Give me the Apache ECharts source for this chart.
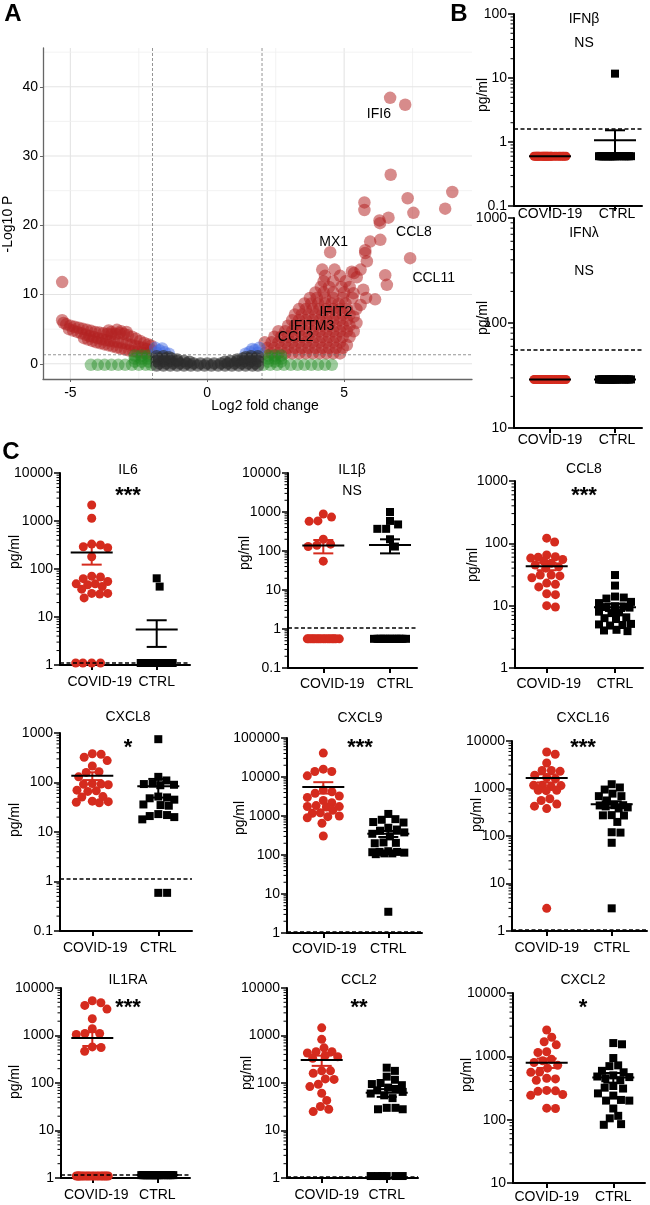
<!DOCTYPE html>
<html><head><meta charset="utf-8">
<script src="https://cdn.jsdelivr.net/npm/echarts@6/dist/echarts.min.js"></script>
<style>html,body{margin:0;padding:0;background:#fff}#c{width:650px;height:1205px}</style>
</head><body><div id="c"></div>
<script>
// ---------------- DATA ----------------
// Panel A: volcano plot, [log2 fold change, -log10 P]
const volcanoNS = [
 [-1.85,-0.25],[-1.6,-0.25],[-1.35,-0.25],[-1.1,-0.25],[-0.85,-0.25],[-0.6,-0.25],[-0.35,-0.25],[-0.1,-0.25],[0.15,-0.25],[0.4,-0.25],[0.65,-0.25],[0.9,-0.25],[1.15,-0.25],[1.4,-0.25],[1.65,-0.25],[1.85,-0.25],
 [-1.75,0.05],[-1.5,0.05],[-1.25,0.05],[-1.0,0.05],[-0.75,0.05],[-0.5,0.05],[-0.25,0.05],[0,0.05],[0.25,0.05],[0.5,0.05],[0.75,0.05],[1.0,0.05],[1.25,0.05],[1.5,0.05],[1.75,0.05],
 [-1.85,0.4],[-1.6,0.4],[-1.35,0.4],[-1.1,0.4],[-0.85,0.4],[-0.65,0.3],[0.65,0.3],[0.85,0.4],[1.1,0.4],[1.35,0.4],[1.6,0.4],[1.85,0.4],
 [-1.8,0.75],[-1.55,0.75],[-1.3,0.75],[-1.1,0.6],[1.1,0.6],[1.3,0.75],[1.55,0.75],[1.8,0.75],
 [-1.85,1.1],[-1.6,1.1],[-1.4,0.95],[1.4,0.95],[1.6,1.1],[1.85,1.1]
];
const volcanoP = [
 [-1.9,2.3],[-1.75,1.95],[-1.55,1.65],[-1.4,1.45],[-1.85,1.6],[-1.65,2.2],
 [1.4,1.45],[1.55,1.7],[1.75,2.0],[1.9,2.3],[1.85,1.6],[1.65,2.15]
];
const volcanoFC = [
 [-4.25,-0.15],[-4.0,-0.15],[-3.75,-0.15],[-3.5,-0.15],[-3.25,-0.15],[-3.0,-0.15],[-2.75,-0.15],[-2.5,-0.15],[-2.25,-0.15],[-2.05,-0.15],
 [2.05,-0.15],[2.3,-0.15],[2.55,-0.15],[2.8,-0.15],[3.05,-0.15],[3.3,-0.15],[3.55,-0.15],[3.8,-0.15],[4.05,-0.15],[4.3,-0.15],[4.55,-0.15],
 [-2.65,0.3],[-2.4,0.3],[-2.15,0.3],[-2.65,0.75],[-2.4,0.75],[-2.15,0.75],[-2.65,1.2],[-2.4,1.2],[-2.15,1.2],
 [2.22,0.3],[2.47,0.3],[2.7,0.3],[2.22,0.75],[2.47,0.75],[2.7,0.75],[2.22,1.2],[2.47,1.2],[2.7,1.2]
];
const volcanoFCP = [
 // down-regulated
 [-5.3,11.8],[-5.3,6.3],[-5.25,5.9],
 [-5.15,5.7],[-5.0,5.5],[-4.85,5.35],[-4.7,5.2],[-4.55,5.05],[-4.4,4.9],[-4.25,4.75],[-4.1,4.6],[-3.95,4.5],[-3.8,4.4],[-3.65,4.3],[-3.5,4.25],[-3.35,4.3],[-3.2,4.4],[-3.05,4.3],[-2.9,4.1],[-2.75,3.9],[-2.6,3.6],[-2.45,3.3],[-2.3,3.0],[-2.15,2.8],[-2.05,2.6],
 [-5.05,5.0],[-4.9,4.8],[-4.75,4.6],[-4.6,4.4],[-4.45,4.2],[-4.3,4.0],[-4.15,3.85],[-4.0,3.7],[-3.85,3.55],[-3.7,3.4],[-3.55,3.3],[-3.4,3.2],[-3.25,3.1],[-3.1,3.0],[-2.95,2.9],[-2.8,2.75],[-2.65,2.6],[-2.5,2.45],[-2.35,2.3],[-2.2,2.15],[-2.05,2.0],
 [-4.5,3.7],[-4.35,3.5],[-4.2,3.3],[-4.05,3.1],[-3.9,2.95],[-3.75,2.8],[-3.6,2.65],[-3.45,2.5],[-3.3,2.35],[-3.15,2.2],[-3.0,2.05],[-2.85,1.9],[-2.7,1.8],[-2.55,1.7],[-2.4,1.6],[-2.25,1.5],[-2.1,1.45],
 [-3.6,4.8],[-3.5,4.6],[-3.3,4.9],[-3.15,4.7],[-2.95,4.6],
 // up-regulated
 [2.1,1.5],[2.35,1.5],[2.6,1.5],[2.85,1.5],[3.1,1.5],[3.35,1.5],[3.6,1.5],[3.85,1.5],[4.1,1.5],[4.35,1.5],[4.6,1.5],[4.85,1.5],
 [2.2,2.3],[2.45,2.3],[2.7,2.3],[2.95,2.3],[3.2,2.3],[3.45,2.3],[3.7,2.3],[3.95,2.3],[4.2,2.3],[4.45,2.3],[4.7,2.3],[4.95,2.3],
 [2.1,3.1],[2.35,3.1],[2.6,3.1],[2.85,3.1],[3.1,3.1],[3.35,3.1],[3.6,3.1],[3.85,3.1],[4.1,3.1],[4.35,3.1],[4.6,3.1],[4.85,3.1],[5.1,2.7],
 [2.45,3.9],[2.7,3.9],[2.95,3.9],[3.2,3.9],[3.45,3.9],[3.7,3.9],[3.95,3.9],[4.2,3.9],[4.45,3.9],[4.7,3.9],[4.95,3.9],[5.2,3.9],
 [2.6,4.7],[2.85,4.7],[3.1,4.7],[3.35,4.7],[3.6,4.7],[3.85,4.7],[4.1,4.7],[4.35,4.7],[4.6,4.7],[4.85,4.7],[5.1,4.7],[5.35,4.7],
 [2.95,5.5],[3.2,5.5],[3.45,5.5],[3.7,5.5],[3.95,5.5],[4.2,5.5],[4.45,5.5],[4.7,5.5],[4.95,5.5],[5.2,5.5],[5.45,5.9],
 [3.1,6.3],[3.35,6.3],[3.6,6.3],[3.85,6.3],[4.1,6.3],[4.35,6.3],[4.6,6.3],[4.85,6.3],[5.1,6.3],[5.35,6.8],
 [3.2,7.1],[3.45,7.1],[3.7,7.1],[3.95,7.1],[4.2,7.1],[4.45,7.1],[4.7,7.1],[4.95,7.1],[5.2,7.1],
 [3.35,7.9],[3.6,7.9],[3.85,7.9],[4.1,7.9],[4.35,7.9],[4.6,7.9],[4.85,7.9],[5.1,7.9],[5.45,7.9],
 [3.55,8.7],[3.8,8.7],[4.05,8.7],[4.3,8.7],[4.55,8.7],[4.8,8.7],[5.05,8.7],[5.6,8.5],
 [3.75,9.5],[4.0,9.5],[4.3,9.5],[4.6,9.5],[4.95,9.5],[5.3,9.5],[5.8,9.5],
 [3.95,10.3],[4.25,10.3],[4.6,10.3],[5.0,10.3],[5.34,10.2],[5.7,10.7],[6.13,9.3],
 [4.15,11.1],[4.45,11.1],[4.9,11.1],[5.2,11.1],[6.56,11.4],
 [4.25,11.9],[4.6,11.9],[5.05,11.9],[5.46,12.5],[6.5,12.8],
 [4.3,12.7],[4.85,12.7],[4.2,13.6],[4.65,13.6],[5.28,13.3],[5.36,13.1],[5.6,13.6],
 [5.83,14.8],[5.77,16.0],[5.77,16.4],[4.49,16.1],[5.95,17.65],[6.32,17.9],
 [6.29,20.7],[6.31,20.3],[6.62,21.1],[5.74,22.2],[5.74,23.3],[7.53,21.8],[7.32,23.9],
 [8.95,24.8],[8.69,22.4],[6.7,27.3],[6.68,38.4],[7.23,37.4],[7.41,15.25]
];
const geneLabels = ['IFI6','CCL8','MX1','CCL11','IFIT2','IFITM3','CCL2'];
const geneLabelPos = [[6.27,36.0],[7.55,18.95],[4.62,17.6],[8.27,12.4],[4.7,7.4],[3.83,5.4],[3.23,3.8]];
const volcanoXTicks = [-5,0,5];
const volcanoYTicks = [0,10,20,30,40];

// Panels B and C: concentrations (pg/ml)
const groups = ['COVID-19','CTRL'];
const analytes = ['IFNβ','IFNλ','IL6','IL1β','CCL8','CXCL8','CXCL9','CXCL16','IL1RA','CCL2','CXCL2'];
const significance = ['NS','NS','***','NS','***','*','***','***','***','**','*'];
const detectionLimit = [1.6, 56, 1.12, 1.1, null, 1.15, 1.05, 1.07, 1.15, 1.08, null];

const ifnbCovid = [0.6,0.6,0.6,0.6,0.6,0.6,0.6,0.6,0.6,0.6,0.6,0.6,0.6,0.6,0.6,0.6,0.6,0.6,0.6,0.6,0.6,0.6,0.6,0.6];
const ifnbCtrl  = [11.7,0.6,0.6,0.6,0.6,0.6,0.6,0.6,0.6,0.6,0.6,0.6,0.6,0.6,0.6,0.6,0.6,0.6,0.6,0.6,0.6,0.6,0.6,0.6];
const ifnlCovid = [29,29,29,29,29,29,29,29,29,29,29,29,29,29,29,29,29,29,29,29,29,29,29,29];
const ifnlCtrl  = [29,29,29,29,29,29,29,29,29,29,29,29,29,29,29,29,29,29,29,29,29,29,29,29];
const il6Covid  = [2150,1140,330,316,290,277,180,71,68,63,55,49,49,47,43,38,31,31,30,25,1.1,1.1,1.1,1.1];
const il6Ctrl   = [64,43,1.1,1.1,1.1,1.1,1.1,1.1,1.1,1.1,1.1,1.1,1.1,1.1,1.1,1.1,1.1,1.1,1.1,1.1,1.1,1.1,1.1,1.1];
const il1bCovid = [890,740,590,575,200,150,140,130,55,0.56,0.56,0.56,0.56,0.56,0.56,0.56,0.56,0.56,0.56,0.56,0.56,0.56,0.56,0.56,0.56];
const il1bCtrl  = [1000,590,480,370,370,200,130,0.56,0.56,0.56,0.56,0.56,0.56,0.56,0.56,0.56,0.56,0.56,0.56,0.56,0.56,0.56];
const ccl8Covid = [121,105,65,61,60,58,55,52,48,45,42,40,31,31,30,28,23,22,20,15.5,15,10,9.5];
const ccl8Ctrl  = [31,21,14,13.5,13,11.5,11,9.8,9.7,9.5,9.3,8,7.8,7.6,6.5,6.3,6.1,5.1,5,4.9,4.8,4.1,4,3.9];
const cxcl8Covid = [380,372,324,277,215,165,160,130,95,93,92,90,70,68,66,52,51,42,41,40,39];
const cxcl8Ctrl  = [750,130,110,95,93,90,88,52,50,48,45,36,35,34,23,22,21,20,18,0.59,0.59];
const cxcl9Covid = [41000,15900,13800,13800,10700,4650,4200,3830,3260,3000,2500,2200,1850,1750,1740,1700,1400,1210,1180,1000,960,900,650,306];
const cxcl9Ctrl  = [1130,830,800,700,680,500,450,420,380,350,300,210,205,200,125,120,120,118,115,110,110,105,3.5];
const cxcl16Covid = [5860,5250,3450,2400,2400,2300,1900,1700,1600,1170,1170,1150,1100,920,920,900,610,560,470,425,378,3.0];
const cxcl16Ctrl  = [1230,1050,950,780,690,690,560,445,445,440,420,400,380,275,272,270,198,120,118,72,3.0];
const il1raCovid = [5380,4900,4300,3600,2250,1390,1100,1100,1050,575,560,465,1.1,1.1,1.1,1.1,1.1,1.1,1.1,1.1,1.1,1.1,1.1,1.1,1.1,1.1,1.1,1.1,1.1,1.1];
const il1raCtrl  = [1.15,1.15,1.15,1.15,1.15,1.15,1.15,1.15,1.15,1.15,1.15,1.15,1.15,1.15,1.15,1.15,1.15,1.15,1.15,1.15,1.15,1.15,1.15,1.15];
const ccl2Covid = [1450,830,550,457,457,427,380,357,330,180,180,160,122,119,94,84,61,43,32,28,25];
const ccl2Ctrl  = [210,180,136,117,100,95,90,80,75,70,65,60,55,48,30,30,28,28,1.1,1.1,1.1,1.1,1.1,1.1];
const cxcl2Covid = [2600,2000,1700,1520,1180,1150,900,850,800,720,650,565,560,450,440,420,290,285,280,250,242,152,150];
const cxcl2Ctrl  = [1620,1550,940,720,700,590,560,500,480,470,450,420,340,320,310,260,240,205,200,200,150,115,105,85,83];

const covidSets = [ifnbCovid,ifnlCovid,il6Covid,il1bCovid,ccl8Covid,cxcl8Covid,cxcl9Covid,cxcl16Covid,il1raCovid,ccl2Covid,cxcl2Covid];
const ctrlSets  = [ifnbCtrl,ifnlCtrl,il6Ctrl,il1bCtrl,ccl8Ctrl,cxcl8Ctrl,cxcl9Ctrl,cxcl16Ctrl,il1raCtrl,ccl2Ctrl,cxcl2Ctrl];
const axisRanges = [[0.1,100],[10,1000],[1,10000],[0.1,10000],[1,1000],[0.1,1000],[1,100000],[1,10000],[1,10000],[1,10000],[10,10000]];

// ---------------- LAYOUT (pixels) ----------------
// lm: label margin, s1/s2: horizontal shift of the group labels
const layout = [
 {gx0:514,gx1:642,gy0:14, gy1:206, c1:550,  c2:615,  tx:584,ty:19, sy:43, px:483,py:95,  lm:1, s1:0,s2:2},
 {gx0:514,gx1:642,gy0:218,gy1:428, c1:550,  c2:615,  tx:584,ty:233,sy:271,px:483,py:318, lm:5, s1:0,s2:2},
 {gx0:60, gx1:190,gy0:473,gy1:665, c1:91.7, c2:156.7,tx:128,ty:470,sy:491,px:15, py:552, lm:10,s1:8,s2:0},
 {gx0:288,gx1:417,gy0:473,gy1:668, c1:323.3,c2:390,  tx:352,ty:470,sy:491,px:245,py:553, lm:9, s1:9,s2:5},
 {gx0:515,gx1:643,gy0:481,gy1:668, c1:546.7,c2:615,  tx:584,ty:469,sy:491,px:473,py:565, lm:9, s1:2,s2:0},
 {gx0:60, gx1:192,gy0:733,gy1:931, c1:92.3, c2:158.3,tx:128,ty:717,sy:743,px:15, py:820, lm:10,s1:3,s2:0},
 {gx0:287,gx1:422,gy0:738,gy1:933, c1:323.3,c2:388.3,tx:360,ty:718,sy:743,px:240,py:818, lm:9, s1:1,s2:0},
 {gx0:512,gx1:647,gy0:741,gy1:931, c1:546.7,c2:611.7,tx:583,ty:718,sy:743,px:477,py:815, lm:10,s1:0,s2:0},
 {gx0:61, gx1:190,gy0:988,gy1:1178,c1:92.3, c2:157.3,tx:128,ty:980,sy:1003,px:15, py:1082,lm:10,s1:4,s2:0},
 {gx0:287,gx1:418,gy0:988,gy1:1178,c1:321.7,c2:386.7,tx:359,ty:980,sy:1003,px:247,py:1073,lm:10,s1:5,s2:0},
 {gx0:513,gx1:645,gy0:993,gy1:1183,c1:546.7,c2:613.3,tx:583,ty:980,sy:1003,px:467,py:1075,lm:7, s1:0,s2:0}
];

const FONT = '"Liberation Sans", Arial, Helvetica, sans-serif';
const RED = '#d52b1e';

// beeswarm placement (pixel offsets) so that dots do not overlap, limited width
function swarm(vals, py, size, maxHalf) {
  const order = vals.map((v,i)=>i).sort((a,b)=>vals[b]-vals[a]);
  const placed = []; const out = new Array(vals.length);
  for (const i of order) {
    const y = py(vals[i]);
    const near = placed.filter(p => Math.abs(p.y - y) < size);
    const cands = [0];
    near.forEach(p => { const dx = Math.sqrt(size*size - (p.y-y)*(p.y-y)); cands.push(p.x+dx, p.x-dx); });
    cands.sort((a,b)=>Math.abs(a)-Math.abs(b));
    let best = null;
    for (const c of cands) {
      if (Math.abs(c) > maxHalf + 0.01) continue;
      if (near.every(p => (p.x-c)*(p.x-c)+(p.y-y)*(p.y-y) >= size*size - 0.05)) { best = c; break; }
    }
    if (best === null) {
      let bestD = -1;
      for (let c = -maxHalf; c <= maxHalf + 0.001; c += 0.5) {
        let d = Infinity; near.forEach(p => { d = Math.min(d, Math.hypot(p.x-c, p.y-y)); });
        if (d > bestD + 1e-6) { bestD = d; best = c; }
      }
    }
    placed.push({x:best, y}); out[i] = best;
  }
  return out;
}
function stats(vals) {
  const n = vals.length; const m = vals.reduce((a,b)=>a+b,0)/n;
  const sd = n>1 ? Math.sqrt(vals.reduce((a,b)=>a+(b-m)*(b-m),0)/(n-1)) : 0;
  return [m, sd/Math.sqrt(n)];
}
const fmtNum = v => String(parseFloat(Number(v).toPrecision(6)));

const grids=[], xAxes=[], yAxes=[], series=[], graphics=[];

// ---------------- Panel A ----------------
grids.push({left:43, top:48, width:429, height:331, outerBoundsMode:'none'});
xAxes.push({type:'value', gridIndex:0, min:-6, max:9.67,
  axisLine:{show:true,onZero:false,lineStyle:{color:'#666',width:1.3}},
  axisTick:{show:true,customValues:volcanoXTicks,length:3,lineStyle:{color:'#666'}},
  axisLabel:{customValues:volcanoXTicks,fontSize:14,color:'#000',fontFamily:FONT,margin:7},
  splitLine:{show:false}});
yAxes.push({type:'value', gridIndex:0, min:-2.2, max:45.6,
  axisLine:{show:true,onZero:false,lineStyle:{color:'#666',width:1.3}},
  axisTick:{show:true,customValues:volcanoYTicks,length:3,lineStyle:{color:'#666'}},
  axisLabel:{customValues:volcanoYTicks,fontSize:14,color:'#000',fontFamily:FONT,margin:5},
  splitLine:{show:false}});
const gridLinesA = [[-5,0,0,1],[0,0,0,1],[5,0,0,1],[-2.5,0,0,0],[2.5,0,0,0],[7.5,0,0,0],
  [0,0,1,1],[0,10,1,1],[0,20,1,1],[0,30,1,1],[0,40,1,1],[0,5,1,0],[0,15,1,0],[0,25,1,0],[0,35,1,0],[0,45,1,0]];
series.push({type:'custom', xAxisIndex:0, yAxisIndex:0, z:0, silent:true, data:gridLinesA,
  renderItem:(params, api) => {
    const cs = params.coordSys; const p = api.coord([api.value(0), api.value(1)]);
    const major = api.value(3) === 1;
    const st = {stroke: major ? '#e4e4e4' : '#efefef', lineWidth: major ? 1.1 : 0.8};
    if (api.value(2) === 0) return {type:'line', shape:{x1:p[0],y1:cs.y,x2:p[0],y2:cs.y+cs.height}, style:st};
    return {type:'line', shape:{x1:cs.x,y1:p[1],x2:cs.x+cs.width,y2:p[1]}, style:st};
  }});
const volcanoStyle = (c) => ({type:'scatter', xAxisIndex:0, yAxisIndex:0, symbolSize:12.5, silent:true, itemStyle:{color:c}, z:2});
series.push(Object.assign(volcanoStyle('rgba(178,34,34,0.66)'), {data:volcanoFCP}));
series.push(Object.assign(volcanoStyle('rgba(34,139,34,0.55)'), {data:volcanoFC}));
series.push(Object.assign(volcanoStyle('rgba(65,105,225,0.6)'), {data:volcanoP}));
series.push(Object.assign(volcanoStyle('rgba(45,45,45,0.75)'), {data:volcanoNS}));
const thresholdsA = [[-2,0,0],[2,0,0],[0,1.3,1]];
series.push({type:'custom', xAxisIndex:0, yAxisIndex:0, z:3, silent:true, data:thresholdsA,
  renderItem:(params, api) => {
    const cs = params.coordSys; const p = api.coord([api.value(0), api.value(1)]);
    const st = {stroke:'#666', lineWidth:0.7, lineDash:[3,2]};
    if (api.value(2) === 0) return {type:'line', shape:{x1:p[0],y1:cs.y,x2:p[0],y2:cs.y+cs.height}, style:st};
    return {type:'line', shape:{x1:cs.x,y1:p[1],x2:cs.x+cs.width,y2:p[1]}, style:st};
  }});
series.push({type:'custom', xAxisIndex:0, yAxisIndex:0, z:5, silent:true, data:geneLabelPos,
  renderItem:(params, api) => {
    const p = api.coord([api.value(0), api.value(1)]);
    return {type:'text', x:p[0], y:p[1], style:{text:geneLabels[params.dataIndex], fill:'#000', fontSize:14, fontFamily:FONT,
      align:'center', verticalAlign:'middle', textAlign:'center', textVerticalAlign:'middle'}};
  }});

// ---------------- Panels B and C ----------------
layout.forEach((P, i) => {
  const gi = grids.length;
  const [ymin, ymax] = axisRanges[i];
  grids.push({left:P.gx0, top:P.gy0, width:P.gx1-P.gx0, height:P.gy1-P.gy0, outerBoundsMode:'none'});
  const u = (P.c2-P.c1)/2;
  const xmin = 1 - (P.c1-P.gx0)/u, xmax = 3 + (P.gx1-P.c2)/u;
  xAxes.push({type:'value', gridIndex:gi, min:xmin, max:xmax,
    axisLine:{show:true,onZero:false,lineStyle:{color:'#000',width:2}},
    axisTick:{show:true,customValues:[1,3],length:5,lineStyle:{color:'#000',width:2}},
    axisLabel:{show:true,customValues:[1,3],
      formatter:v => Math.abs(v-1)<1e-6 ? '{a|' + groups[0] + '}' : '{b|' + groups[1] + '}',
      rich:{a:{padding:[0,0,0,2*P.s1],fontSize:14,color:'#000',fontFamily:FONT},
            b:{padding:[0,0,0,2*P.s2],fontSize:14,color:'#000',fontFamily:FONT}},
      fontSize:14,color:'#000',fontFamily:FONT,margin:P.lm},
    splitLine:{show:false}});
  yAxes.push({type:'log', logBase:10, gridIndex:gi, min:ymin, max:ymax,
    axisLine:{show:true,onZero:false,lineStyle:{color:'#000',width:2}},
    axisTick:{show:true,length:6,lineStyle:{color:'#000',width:1.5}},
    axisLabel:{fontSize:14,color:'#000',fontFamily:FONT,margin:7,formatter:fmtNum},
    splitLine:{show:false}, minorTick:{show:false}});
  // minor log ticks
  const minor = [];
  for (let d = Math.round(Math.log10(ymin)); d < Math.round(Math.log10(ymax)); d++)
    for (let k = 2; k <= 9; k++) minor.push([xmin, k*Math.pow(10,d)]);
  series.push({type:'custom', xAxisIndex:gi, yAxisIndex:gi, silent:true, z:1, data:minor,
    renderItem:(params, api) => {
      const p = api.coord([api.value(0), api.value(1)]);
      return {type:'line', shape:{x1:p[0]-3.5,y1:p[1],x2:p[0],y2:p[1]}, style:{stroke:'#000',lineWidth:1}};
    }});
  const lg0 = Math.log10(ymin), lg1 = Math.log10(ymax);
  const py = v => P.gy1 - (Math.log10(v)-lg0)/(lg1-lg0)*(P.gy1-P.gy0);
  [covidSets[i], ctrlSets[i]].forEach((vals, g) => {
    const cat = g === 0 ? 1 : 3;
    const offs = swarm(vals, py, 8.8, 16);
    const s = {type:'scatter', xAxisIndex:gi, yAxisIndex:gi, silent:true, z:2,
      data: vals.map((v,k) => [cat + offs[k]/u, v]),
      symbol: g === 0 ? 'circle' : 'rect', symbolSize: g === 0 ? 9 : 8,
      itemStyle:{color: g === 0 ? RED : '#000', opacity:1}};
    if (g === 0 && detectionLimit[i] != null) {
      s.markLine = {silent:true, symbol:['none','none'], label:{show:false}, animation:false,
        lineStyle:{color:'#000', type:[4,2.5], width:1.6}, data:[{yAxis:detectionLimit[i]}]};
    }
    series.push(s);
    const [m, sem] = stats(vals);
    const lo = Math.max(m - sem, ymin*1.001), hi = m + sem;
    series.push({type:'custom', xAxisIndex:gi, yAxisIndex:gi, silent:true, z:4, data:[[cat, m, lo, hi]],
      renderItem:(params, api) => {
        const pm = api.coord([api.value(0), api.value(1)]);
        const pl = api.coord([api.value(0), api.value(2)]);
        const ph = api.coord([api.value(0), api.value(3)]);
        const ec = g === 0 ? RED : '#000';
        const st = {stroke:ec, lineWidth:2};
        return {type:'group', children:[
          {type:'line', shape:{x1:pm[0],y1:pl[1],x2:pm[0],y2:ph[1]}, style:st},
          {type:'line', shape:{x1:pm[0]-10,y1:pl[1],x2:pm[0]+10,y2:pl[1]}, style:st},
          {type:'line', shape:{x1:pm[0]-10,y1:ph[1],x2:pm[0]+10,y2:ph[1]}, style:st},
          {type:'line', shape:{x1:pm[0]-21,y1:pm[1],x2:pm[0]+21,y2:pm[1]}, style:{stroke:'#000',lineWidth:2}}
        ]};
      }});
  });
  graphics.push({type:'text', x:P.tx, y:P.ty, style:{text:analytes[i], fill:'#000', fontSize:14, fontFamily:FONT,
    align:'center', verticalAlign:'middle', textAlign:'center', textVerticalAlign:'middle'}});
  const sig = significance[i];
  const isStar = sig.indexOf('*') >= 0;
  graphics.push({type:'text', x:P.tx, y:P.sy + (isStar ? 5 : 0), style:{text:sig, fill:'#000',
    fontSize: isStar ? 22 : 14, fontWeight: isStar ? 'bold' : 'normal', fontFamily:FONT,
    align:'center', verticalAlign:'middle', textAlign:'center', textVerticalAlign:'middle'}});
  graphics.push({type:'text', x:P.px, y:P.py, rotation:Math.PI/2, style:{text:'pg/ml', fill:'#000', fontSize:14, fontFamily:FONT,
    align:'center', verticalAlign:'middle', textAlign:'center', textVerticalAlign:'middle'}});
});

// Panel letters and volcano axis names
[['A',13,14],['B',459,14],['C',11,452]].forEach(([t,x,y]) => graphics.push({type:'text', x, y,
  style:{text:t, fill:'#000', fontSize:24, fontWeight:'bold', fontFamily:FONT, align:'center', verticalAlign:'middle', textAlign:'center', textVerticalAlign:'middle'}}));
graphics.push({type:'text', x:265, y:406, style:{text:'Log2 fold change', fill:'#000', fontSize:14, fontFamily:FONT, align:'center', verticalAlign:'middle', textAlign:'center', textVerticalAlign:'middle'}});
graphics.push({type:'text', x:8, y:224, rotation:Math.PI/2, style:{text:'-Log10 P', fill:'#000', fontSize:14, fontFamily:FONT, align:'center', verticalAlign:'middle', textAlign:'center', textVerticalAlign:'middle'}});

const chart = echarts.init(document.getElementById('c'), null, {width:650, height:1205});
chart.setOption({
  animation:false, backgroundColor:'#fff',
  grid:grids, xAxis:xAxes, yAxis:yAxes, series:series, graphic:graphics
});
</script></body></html>
